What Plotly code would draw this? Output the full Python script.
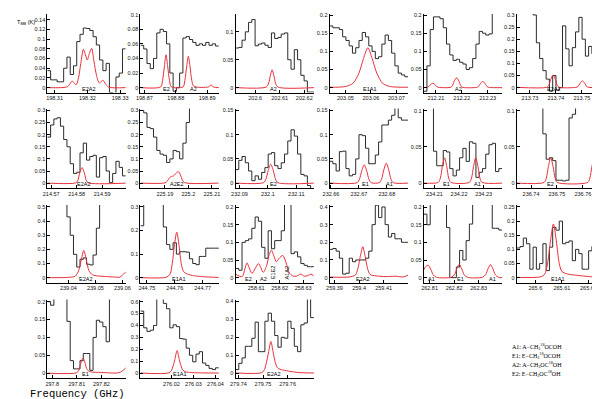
import plotly.graph_objects as go

# ---------------- data ----------------
# observed spectra (T_MB in K), evenly spaced channels starting at chan_start (GHz)
chan_start = [198.3078, 198.86875, 202.592, 203.0438, 212.2053, 213.7249,
              214.5685, 225.1796, 232.0886, 232.6595, 234.2056, 236.7345,
              239.0322, 244.7477, 258.6012, 259.388, 262.8076, 265.593,
              297.798, 276.006, 279.7388]
chan_width = [0.000996, 0.00104, 0.00133, 0.00128, 0.00126, 0.00126,
              0.00128, 0.00139, 0.00115, 0.00117, 0.00133, 0.00126,
              0.00121, 0.00117, 0.00139, 0.00133, 0.00133, 0.00123,
              0.00133, 0.00148, 0.00133]

obs_1 = [0.035, 0.016, 0.016, 0.012, 0.012, 0.04, 0.063, 0.027, 0.045, 0.095, 0.11, 0.123,
         0.122, 0.118, 0.105, 0.088, 0.057, 0.035, 0.05, -0.01, -0.015, 0.022, 0.03, 0.08]
obs_2 = [0.058, 0.053, 0.033, 0.026, 0.04, 0.075, 0.08, 0.077, 0.06, 0.02, -0.005, 0.0,
         0.02, 0.068, 0.07, 0.066, 0.062, 0.058, 0.06, 0.058, 0.062, 0.058, 0.06, 0.057]
obs_3 = [0.071, 0.072, 0.085, 0.1, 0.117, 0.122, 0.075, 0.078, 0.08, 0.076, 0.072, 0.098,
         0.088, 0.09, 0.096, 0.098, 0.05, 0.033, 0.068, 0.05, 0.022, 0.012, -0.008, -0.008]
obs_4 = [0.17, 0.165, 0.165, 0.16, 0.14, 0.13, 0.115, 0.095, 0.11, 0.13, 0.152, 0.14,
         0.115, 0.1, 0.08, 0.085, 0.12, 0.145, 0.13, 0.095, 0.06, 0.04, 0.035, 0.03]
obs_5 = [-0.01, 0.06, 0.16, 0.195, 0.195, 0.19, 0.165, 0.12, 0.09, 0.075, 0.078, 0.07,
         0.065, 0.05, 0.055, 0.08, 0.12, 0.155, 0.15, 0.145, 0.148, 0.3, 0.3, 0.3]
obs_6 = [0.5, 0.5, 0.5, 0.5, 0.5, 0.3, 0.185, 0.12, 0.07, 0.035, -0.015, 0.05,
         -0.01, 0.0, 0.255, 0.16, 0.09, 0.165, 0.23, 0.29, 0.2, 0.13, 0.17, 0.14]
obs_7 = [0.19, 0.24, 0.265, 0.27, 0.235, 0.18, 0.15, 0.08, 0.04, 0.045, 0.125, 0.165,
         0.095, 0.11, 0.115, 0.025, 0.105, 0.11, 0.05, 0.002, 0.04, 0.09, 0.065, 0.03]
obs_8 = [0.3, 0.29, 0.23, 0.225, 0.19, 0.135, 0.12, 0.115, 0.085, 0.1, 0.135, 0.13,
         0.1, 0.165, 0.25, 0.6, 0.6, 0.6, 0.6, 0.6, 0.6, 0.6, 0.6, 0.6]
obs_9 = [0.028, 0.047, 0.055, 0.042, 0.025, 0.005, 0.015, 0.008, 0.022, 0.032, 0.06, 0.063,
         0.036, 0.03, 0.042, 0.06, 0.087, 0.11, 0.097, 0.06, 0.018, 0.015, -0.005, -0.012]
obs_10 = [0.045, 0.04, 0.025, 0.065, 0.066, 0.03, 0.015, 0.018, 0.05, 0.1, 0.098, 0.072,
          0.04, 0.04, 0.058, 0.085, 0.12, 0.12, 0.13, 0.14, 0.3, 0.135, 0.13, 0.13]
obs_11 = [0.3, 0.3, 0.3, 0.044, 0.024, 0.024, 0.045, 0.043, 0.02, 0.01, 0.018, 0.035,
          0.048, 0.03, 0.057, 0.055, 0.008, 0.015, 0.02, 0.04, 0.053, 0.055, 0.016, 0.02]
obs_12 = [0.3, 0.3, 0.3, 0.3, 0.3, 0.3, 0.3, 0.3, 0.068, 0.033, 0.035, 0.031,
          0.004, 0.004, 0.003, 0.004, 0.09, 0.095, 0.3, 0.3, 0.3, 0.3, 0.3, 0.3]
obs_13 = [0.7, 0.7, 0.7, 0.7, 0.7, 0.7, 0.43, 0.3, 0.165, 0.075, 0.13, 0.14,
          0.095, 0.09, 0.16, 0.35, 0.7, 0.7, 0.7, 0.7, 0.7, 0.7, 0.7, 0.7]
obs_14 = [0.22, 0.6, 0.6, 0.6, 0.6, 0.6, 0.6, 0.215, 0.14, 0.12, 0.148, 0.1,
          0.11, 0.11, 0.108, 0.08, 0.06, 0.055, 0.09, 0.09, 0.125, 0.125, 0.125, 0.125]
obs_15 = [0.026, 0.021, 0.1, 0.105, 0.11, 0.14, 0.172, 0.16, 0.086, 0.055, 0.133, 0.082,
          0.105, 0.105, 0.133, 0.3, 0.3, 0.068, 0.073, 0.059, 0.04, 0.035, 0.031, 0.031]
obs_16 = [0.16, 0.165, 0.15, 0.11, 0.02, 0.025, 0.11, 0.09, 0.1, 0.1, 0.1, 0.11,
          0.15, 0.3, 0.41, 0.34, 0.4, 0.3, 0.23, 0.25, 0.22, 0.22, 0.2, 0.2]
obs_17 = [0.18, 0.15, 0.5, 0.5, 0.5, 0.5, 0.5, 0.142, 0.0, 0.0, 0.03, 0.077,
          0.05, 0.105, 0.152, 0.25, 0.5, 0.5, 0.5, 0.5, 0.5, 0.14, 0.14, 0.135]
obs_18 = [0.105, 0.11, 0.14, 0.12, 0.03, 0.108, 0.03, 0.05, 0.12, 0.025, 0.108, 0.178,
          0.168, 0.2, 0.12, 0.125, 0.13, 0.06, 0.1, 0.085, 0.03, 0.03, 0.095, 0.11]
obs_19 = [0.2, 0.19, 0.3, 0.3, 0.3, 0.3, 0.145, 0.035, 0.012, 0.012, 0.035, 0.055,
          0.055, 0.008, 0.1, 0.148, 0.143, 0.13, 0.088, 0.3, 0.3, 0.3, 0.3, 0.3]
obs_20 = [0.52, 0.38, 0.35, 0.36, 0.4, 0.8, 0.8, 0.585, 0.54, 0.38, 0.405, 0.39,
          0.29, 0.285, 0.21, 0.15, 0.095, 0.16, 0.18, 0.085, 0.065, 0.04, 0.03, 0.045]
obs_21 = [0.02, 0.055, 0.085, 0.15, 0.15, 0.195, 0.285, 0.12, 0.12, 0.29, 0.335, 0.29,
          0.21, 0.145, 0.2, 0.195, 0.29, 0.25, 0.15, 0.12, 0.27, 0.28, 0.5, 0.31]

# LTE model (red), (frequency GHz, T_MB K)
mod_1 = [(198.3078, 0), (198.3140, 0.002), (198.3150, 0.011), (198.3155, 0.013), (198.3160, 0.009),
         (198.3166, 0.006), (198.3173, 0.02), (198.3180, 0.05), (198.3188, 0.079), (198.3194, 0.068),
         (198.3200, 0.057), (198.3206, 0.07), (198.3213, 0.081), (198.3220, 0.055), (198.3228, 0.025),
         (198.3236, 0.01), (198.3243, 0.013), (198.3248, 0.015), (198.3255, 0.008), (198.3265, 0.001),
         (198.3317, 0)]
mod_2 = [(198.86875, 0), (198.8752, 0.001), (198.8758, 0.01), (198.8764, 0.03), (198.8769, 0.045),
         (198.8774, 0.03), (198.8780, 0.01), (198.8786, 0.001), (198.8823, 0.001), (198.8829, 0.01),
         (198.8835, 0.03), (198.8840, 0.043), (198.8845, 0.03), (198.8851, 0.01), (198.8857, 0.002),
         (198.8905, 0.001), (198.8912, 0.004), (198.8919, 0.001), (198.89375, 0)]
mod_3 = [(202.592, 0), (202.6045, 0.001), (202.6055, 0.008), (202.6062, 0.022), (202.6069, 0.032),
         (202.6076, 0.022), (202.6083, 0.008), (202.6093, 0.001), (202.624, 0)]
mod_4 = [(203.0438, 0.001), (203.0500, 0.003), (203.0530, 0.012), (203.0553, 0.04), (203.0571, 0.08),
         (203.0588, 0.11), (203.0605, 0.08), (203.0623, 0.04), (203.0646, 0.012), (203.0676, 0.003),
         (203.0746, 0.001)]
mod_5 = [(212.2053, 0), (212.2063, 0.0005), (212.2071, 0.002), (212.2079, 0.008), (212.2088, 0.012),
         (212.2097, 0.008), (212.2105, 0.002), (212.2113, 0.0005), (212.2155, 0.0005), (212.2163, 0.004),
         (212.2171, 0.018), (212.2180, 0.027), (212.2189, 0.018), (212.2197, 0.004), (212.2205, 0.0005),
         (212.2256, 0.0005), (212.2264, 0.0025), (212.2272, 0.011), (212.2281, 0.017), (212.2290, 0.011),
         (212.2298, 0.0025), (212.2306, 0.0005), (212.2355, 0)]
mod_6 = [(213.7249, 0.001), (213.7364, 0.001), (213.7372, 0.008), (213.7380, 0.034), (213.7389, 0.052),
         (213.7398, 0.034), (213.7406, 0.008), (213.7414, 0.001), (213.7477, 0.001), (213.7485, 0.004),
         (213.7493, 0.018), (213.7502, 0.028), (213.7511, 0.018), (213.7519, 0.004), (213.7527, 0.001),
         (213.7551, 0)]
mod_7 = [(214.5685, 0), (214.5796, 0.001), (214.5804, 0.01), (214.5812, 0.042), (214.5821, 0.064),
         (214.5830, 0.042), (214.5838, 0.01), (214.5846, 0.001), (214.5993, 0)]
mod_8 = [(225.1796, 0), (225.1900, 0.001), (225.1910, 0.008), (225.1920, 0.022), (225.1929, 0.028),
         (225.1937, 0.03), (225.1945, 0.038), (225.1957, 0.048), (225.1966, 0.034), (225.1975, 0.012),
         (225.1984, 0.002), (225.2129, 0)]
mod_9 = [(232.0886, 0), (232.0985, 0.001), (232.0993, 0.008), (232.1001, 0.026), (232.1010, 0.039),
         (232.1019, 0.026), (232.1027, 0.008), (232.1035, 0.001), (232.1162, 0)]
mod_10 = [(232.6595, 0), (232.6694, 0.001), (232.6702, 0.008), (232.6710, 0.025), (232.6719, 0.038),
          (232.6728, 0.025), (232.6736, 0.008), (232.6744, 0.001), (232.6773, 0.001), (232.6781, 0.008),
          (232.6789, 0.027), (232.6798, 0.041), (232.6807, 0.027), (232.6815, 0.008), (232.6823, 0.001),
          (232.6876, 0)]
mod_11 = [(234.2056, 0), (234.2115, 0.001), (234.2124, 0.007), (234.2132, 0.023), (234.2141, 0.035),
          (234.2150, 0.023), (234.2158, 0.007), (234.2167, 0.001), (234.2242, 0.001), (234.2251, 0.007),
          (234.2259, 0.023), (234.2268, 0.035), (234.2277, 0.023), (234.2285, 0.007), (234.2294, 0.001),
          (234.2376, 0)]
mod_12 = [(236.7345, 0), (236.7451, 0.001), (236.7459, 0.007), (236.7467, 0.023), (236.7476, 0.035),
          (236.7485, 0.023), (236.7493, 0.007), (236.7501, 0.001), (236.7619, 0.001), (236.7627, 0.007),
          (236.7635, 0.023), (236.7644, 0.035), (236.7647, 0.034)]
mod_13 = [(239.0322, 0), (239.0400, 0.002), (239.0425, 0.01), (239.0438, 0.05), (239.0447, 0.12),
          (239.0457, 0.193), (239.0467, 0.12), (239.0476, 0.05), (239.0489, 0.02), (239.0510, 0.012),
          (239.0540, 0.008), (239.0575, 0.004), (239.0590, 0.003), (239.0600, 0.018), (239.0613, 0.04)]
mod_14 = [(244.7477, 0), (244.7570, 0.002), (244.7583, 0.015), (244.7591, 0.06), (244.7599, 0.14),
          (244.7607, 0.193), (244.7615, 0.14), (244.7623, 0.06), (244.7632, 0.025), (244.7645, 0.015),
          (244.7670, 0.008), (244.7700, 0.004), (244.7758, 0.001)]
mod_15 = [(258.6012, 0.01), (258.6040, 0.003), (258.6052, 0.025), (258.6061, 0.042), (258.6070, 0.028),
          (258.6082, 0.012), (258.6095, 0.025), (258.6109, 0.04), (258.6120, 0.028), (258.6130, 0.015),
          (258.6145, 0.035), (258.6155, 0.065), (258.6165, 0.078), (258.6176, 0.06), (258.6186, 0.045),
          (258.6198, 0.055), (258.6213, 0.063), (258.6226, 0.045), (258.6240, 0.015), (258.6255, 0.005),
          (258.6270, 0.004), (258.6290, 0.01), (258.6305, 0.004), (258.6320, 0.006), (258.6332, 0.01),
          (258.6345, 0.005)]
mod_16 = [(259.388, 0.003), (259.3960, 0.004), (259.3985, 0.015), (259.3995, 0.05), (259.4005, 0.12),
          (259.4015, 0.175), (259.4025, 0.12), (259.4035, 0.05), (259.4045, 0.018), (259.4070, 0.01),
          (259.4110, 0.006), (259.4150, 0.008), (259.4180, 0.004), (259.4200, 0.015)]
mod_17 = [(262.8076, 0.022), (262.8085, 0.032), (262.8095, 0.035), (262.8105, 0.024), (262.8115, 0.008),
          (262.8128, 0.001), (262.8188, 0.001), (262.8201, 0.008), (262.8211, 0.025), (262.8221, 0.038),
          (262.8231, 0.025), (262.8241, 0.008), (262.8254, 0.001), (262.8315, 0.001), (262.8328, 0.008),
          (262.8338, 0.025), (262.8348, 0.037), (262.8358, 0.025), (262.8368, 0.008), (262.8381, 0.001),
          (262.8396, 0)]
mod_18 = [(265.593, 0.001), (265.6020, 0.003), (265.6035, 0.012), (265.6045, 0.045), (265.6057, 0.13),
          (265.6068, 0.19), (265.6079, 0.13), (265.6090, 0.05), (265.6100, 0.022), (265.6120, 0.013),
          (265.6160, 0.008), (265.6200, 0.004), (265.6226, 0.002)]
mod_19 = [(297.798, 0), (297.8098, 0.001), (297.8108, 0.008), (297.8116, 0.028), (297.8125, 0.042),
          (297.8134, 0.028), (297.8142, 0.01), (297.8155, 0.004), (297.8200, 0.002), (297.8270, 0.001),
          (297.8285, 0.006), (297.8300, 0.015)]
mod_20 = [(276.006, 0.001), (276.0190, 0.003), (276.0201, 0.025), (276.0208, 0.06), (276.0216, 0.115),
          (276.0226, 0.19), (276.0236, 0.115), (276.0244, 0.06), (276.0251, 0.028), (276.0265, 0.012),
          (276.0290, 0.005), (276.0416, 0.001)]
mod_21 = [(279.7388, 0.001), (279.7495, 0.003), (279.7506, 0.02), (279.7514, 0.06), (279.7523, 0.12),
          (279.7532, 0.177), (279.7541, 0.12), (279.7550, 0.06), (279.7560, 0.028), (279.7580, 0.018),
          (279.7610, 0.01), (279.7640, 0.004), (279.7670, 0.002), (279.7708, 0.001)]

# transition labels: (text, frequency)
labels = [
    [("E2A2", 198.3203)],
    [("E2", 198.8772), ("A2", 198.8855)],
    [("A2", 202.6076)],
    [("E1A1", 203.0595)],
    [("A2", 212.2189)],
    [("E2A2", 213.7389)],
    [("E2A2", 214.5827)],
    [("A2E2", 225.1950)],
    [("E2", 232.1018)],
    [("E1", 232.6722), ("A1", 232.6810)],
    [("E1", 234.2148), ("A1", 234.2275)],
    [("E2", 236.7476)],
    [("E2A2", 239.0463)],
    [("E1A1", 244.7613)],
    [("E2", 258.6067), ("A2", 258.6130)],
    [("E2A2", 259.4012)],
    [("A1", 262.8108), ("E1", 262.8228), ("A1", 262.8357)],
    [("E1A1", 265.6083)],
    [("E1", 297.8135)],
    [("E1A1", 276.0239)],
    [("E2A2", 279.7541)],
]
# blended labels drawn vertically in panel 15
vlabels_15 = [("E1E2", 258.6169), ("A1A2", 258.6230)]

x_ticks = [[198.31, 198.32, 198.33], [198.87, 198.88, 198.89], [202.6, 202.61, 202.62],
           [203.05, 203.06, 203.07], [212.21, 212.22, 212.23], [213.73, 213.74, 213.75],
           [214.57, 214.58, 214.59], [225.19, 225.2, 225.21], [232.09, 232.1, 232.11],
           [232.66, 232.67, 232.68], [234.21, 234.22, 234.23], [236.74, 236.75, 236.76],
           [239.04, 239.05, 239.06], [244.75, 244.76, 244.77], [258.61, 258.62, 258.63],
           [259.39, 259.4, 259.41], [262.81, 262.82, 262.83], [265.6, 265.61, 265.62],
           [297.8, 297.81, 297.82], [276.02, 276.03, 276.04], [279.74, 279.75, 279.76]]

legend_lines = ["A1: A\u2212CH<sub>3</sub><sup>18</sup>OCOH",
                "E1: E\u2212CH<sub>3</sub><sup>18</sup>OCOH",
                "A2: A\u2212CH<sub>3</sub>OC<sup>18</sup>OH",
                "E2: E\u2212CH<sub>3</sub>OC<sup>18</sup>OH"]

obs = [obs_1, obs_2, obs_3, obs_4, obs_5, obs_6, obs_7, obs_8, obs_9, obs_10, obs_11,
       obs_12, obs_13, obs_14, obs_15, obs_16, obs_17, obs_18, obs_19, obs_20, obs_21]
mods = [mod_1, mod_2, mod_3, mod_4, mod_5, mod_6, mod_7, mod_8, mod_9, mod_10, mod_11,
        mod_12, mod_13, mod_14, mod_15, mod_16, mod_17, mod_18, mod_19, mod_20, mod_21]

# ---------------- layout (pixels in a 600x399 page) ----------------
W, H = 600, 399
col_left = [33, 128, 225, 321, 417, 512]
row_top = [4, 99, 196, 291]
row_bot = [83, 179, 274, 370]
zero_px = [78, 174, 269, 365]
pw = 80
y_top = [0.152, 0.101, 0.132, 0.203, 0.203, 0.304,
         0.308, 0.308, 0.154, 0.154, 0.103, 0.103,
         0.514, 0.308, 0.206, 0.411, 0.206, 0.257,
         0.206, 0.617, 0.411]
y_dtick = [0.02, 0.02, 0.05, 0.05, 0.05, 0.05,
           0.05, 0.05, 0.05, 0.05, 0.05, 0.05,
           0.1, 0.1, 0.05, 0.1, 0.05, 0.05,
           0.05, 0.1, 0.1]

BLACK = "#2b2b2b"
RED = "#e8303a"
tick_font = dict(family="Liberation Sans", size=5.5, color="#111111")
lab_font = dict(family="Liberation Sans", size=5.5, color="black")

fig = go.Figure()
ann = []
for i in range(21):
    r, c = divmod(i, 6)
    n = "" if i == 0 else str(i + 1)
    L = col_left[c]
    top, bot, z = row_top[r], row_bot[r], zero_px[r]
    ymax = y_top[i]
    ymin = -ymax * (bot - z) / (z - top)
    nch = len(obs[i])
    x0 = chan_start[i]
    dx = chan_width[i]
    xs = [x0 + k * dx for k in range(nch + 1)]
    ys = obs[i] + [obs[i][-1]]
    fig.add_trace(go.Scatter(x=xs, y=ys, mode="lines", line=dict(color=BLACK, width=1, shape="hv"),
                             xaxis="x" + n, yaxis="y" + n, showlegend=False, hoverinfo="skip"))
    mf = [p[0] for p in mods[i]]
    mt = [p[1] for p in mods[i]]
    fig.add_trace(go.Scatter(x=mf, y=mt, mode="lines", line=dict(color=RED, width=1, shape="spline", smoothing=0.8),
                             xaxis="x" + n, yaxis="y" + n, showlegend=False, hoverinfo="skip"))
    xr = [x0, x0 + dx * nch]
    fig.layout["xaxis" + n] = dict(
        domain=[L / W, (L + pw) / W], range=xr, anchor="y" + n,
        tickmode="array", tickvals=x_ticks[i], ticktext=[str(v) for v in x_ticks[i]],
        ticks="inside", ticklen=3, tickcolor="black", showline=True, linecolor="black", linewidth=1,
        showgrid=False, zeroline=False, tickfont=tick_font)
    fig.layout["yaxis" + n] = dict(
        domain=[1 - bot / H, 1 - top / H], range=[ymin, ymax], anchor="x" + n,
        dtick=y_dtick[i], tick0=0, ticks="inside", ticklen=3, tickcolor="black",
        showline=True, linecolor="black", linewidth=1, showgrid=False, zeroline=False,
        tickfont=tick_font)
    for txt, f in labels[i]:
        ann.append(dict(x=f, y=0, xref="x" + n, yref="y" + n, text=txt, showarrow=False,
                        yanchor="middle", yshift=-1, font=lab_font))
    if i == 14:
        for txt, f in vlabels_15:
            ann.append(dict(x=f, y=0, xref="x" + n, yref="y" + n, text=txt, showarrow=False,
                            textangle=-90, yanchor="middle", yshift=5, font=lab_font))

ann.append(dict(x=0, y=1 - 13 / H, xref="paper", yref="paper", xanchor="left", yanchor="middle",
                text="T<sub>MB</sub> (K)", showarrow=False,
                font=dict(family="Liberation Sans", size=5.5, color="black")))
ann.append(dict(x=64 / W, y=1 - 386 / H, xref="paper", yref="paper", xanchor="center", yanchor="middle",
                text="Frequency (GHz)", showarrow=False,
                font=dict(family="Liberation Mono", size=10.5, color="black")))
for k, t in enumerate(legend_lines):
    ann.append(dict(x=505 / W, y=1 - (338 + 9 * k) / H, xref="paper", yref="paper",
                    xanchor="left", yanchor="middle", text=t, showarrow=False,
                    font=dict(family="Liberation Serif", size=6, color="black")))

fig.update_layout(width=W, height=H, margin=dict(l=0, r=0, t=0, b=0),
                  paper_bgcolor="white", plot_bgcolor="white", annotations=ann)

fig.write_html("out.html")
